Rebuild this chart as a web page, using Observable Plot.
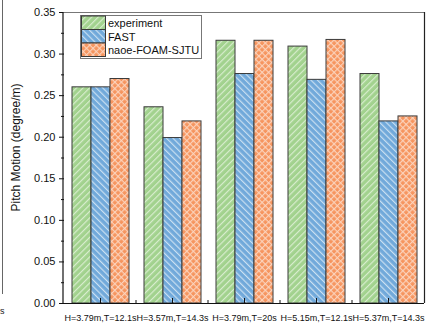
<!DOCTYPE html>
<html>
<head>
<meta charset="utf-8">
<script src="https://cdn.jsdelivr.net/npm/d3@7"></script>
<script src="https://cdn.jsdelivr.net/npm/@observablehq/plot@0.6"></script>
<style>
  body { margin: 0; background: #fff; }
  #chart { position: relative; width: 427px; height: 325px; overflow: hidden; font-family: "Liberation Sans", Arial, sans-serif; }
  #chart svg { position: absolute; left: 0; top: 0; }
  .edge-line { position: absolute; left: 2px; top: 0; width: 1px; height: 294px; background: #666; }
  .edge-text { position: absolute; left: 0px; top: 306px; font-size: 9px; color: #222; }
</style>
</head>
<body>
<div id="chart">
  <div class="edge-line"></div>
  <div class="edge-text">s</div>
</div>
<script>
// Wave conditions (one group of bars each)
const conditions = ["H=3.79m,T=12.1s", "H=3.57m,T=14.3s", "H=3.79m,T=20s", "H=5.15m,T=12.1s", "H=5.37m,T=14.3s"];
const seriesNames = ["experiment", "FAST", "naoe-FOAM-SJTU"];

// Pitch motion response per condition (degree/m)
const experiment = [0.260, 0.236, 0.316, 0.309, 0.276];
const fast       = [0.260, 0.199, 0.276, 0.269, 0.219];
const naoe       = [0.270, 0.219, 0.316, 0.317, 0.225];

const yTicks = [0, 0.05, 0.10, 0.15, 0.20, 0.25, 0.30, 0.35];
const yMinorTicks = [0.025, 0.075, 0.125, 0.175, 0.225, 0.275, 0.325];

const seriesValues = [experiment, fast, naoe];
const rows = [];
conditions.forEach((c, i) => {
  seriesNames.forEach((s, j) => rows.push({condition: c, series: s, value: seriesValues[j][i]}));
});

// hatch patterns for each series
const patterns = [
  {id: "hatch-exp",  base: "#a2d28e", line: "#dcefd3", angles: [45]},
  {id: "hatch-fast", base: "#71a9da", line: "#cfe3f3", angles: [-45]},
  {id: "hatch-naoe", base: "#f6955f", line: "#fcd6c0", angles: [45, -45]}
];

const plot = Plot.plot({
  width: 427,
  height: 325,
  marginLeft: 63,
  marginRight: 2,
  marginTop: 12,
  marginBottom: 22,
  style: {fontFamily: "'Liberation Sans', Arial, sans-serif", fontSize: "11px", background: "transparent", color: "#111"},
  fx: {domain: conditions, padding: 0, label: null},
  x: {domain: seriesNames, paddingInner: 0, paddingOuter: 0.38, axis: null},
  y: {domain: [0, 0.35], label: null},
  color: {domain: seriesNames, range: patterns.map(p => `url(#${p.id})`)},
  marks: [
    Plot.barY(rows, {fx: "condition", x: "series", y: "value", fill: "series", stroke: "#3a3a3a", strokeWidth: 1}),
    Plot.ruleY([0], {stroke: "#111", strokeWidth: 1.2}),
    Plot.axisY({ticks: yTicks, tickFormat: d3.format(".2f"), tickSize: 5, tickPadding: 4, label: null, fontSize: 11}),
    Plot.axisY({ticks: yMinorTicks, tickSize: 3, tickFormat: () => "", label: null}),
    Plot.axisFx({anchor: "bottom", tickSize: 0, tickPadding: 11, fontSize: 9, label: null}),
    Plot.axisFx({anchor: "bottom", tickSize: -5, tickFormat: () => "", label: null})
  ]
});

const svg = plot.tagName.toLowerCase() === "svg" ? plot : plot.querySelector("svg");
document.getElementById("chart").appendChild(plot);

const root = d3.select(svg);
const defs = root.insert("defs", ":first-child");
patterns.forEach(p => {
  const pat = defs.append("pattern")
    .attr("id", p.id)
    .attr("patternUnits", "userSpaceOnUse")
    .attr("width", 4.6).attr("height", 4.6)
    .attr("patternTransform", p.angles.length === 1 ? `rotate(${p.angles[0]})` : "rotate(45)");
  pat.append("rect").attr("width", 4.6).attr("height", 4.6).attr("fill", p.base);
  pat.append("line").attr("x1", 0.6).attr("y1", 0).attr("x2", 0.6).attr("y2", 4.6)
    .attr("stroke", p.line).attr("stroke-width", 1.1);
  if (p.angles.length > 1) {
    pat.append("line").attr("x1", 0).attr("y1", 0.6).attr("x2", 4.6).attr("y2", 0.6)
      .attr("stroke", p.line).attr("stroke-width", 1.1);
  }
});

// frame, left axis line and minor ticks between groups
const fx = plot.scale("fx");
const y = plot.scale("y");
const x0 = fx.range[0], x1 = fx.range[1];
const yTop = y.apply(0.35), yBot = y.apply(0);
const frame = root.append("g").attr("fill", "none");
frame.append("line").attr("x1", x0).attr("x2", x1).attr("y1", yTop + 0.5).attr("y2", yTop + 0.5).attr("stroke", "#777");
frame.append("line").attr("x1", x1 - 0.5).attr("x2", x1 - 0.5).attr("y1", yTop).attr("y2", yBot).attr("stroke", "#222").attr("stroke-width", 1.2);
frame.append("line").attr("x1", x0).attr("x2", x0).attr("y1", yTop).attr("y2", yBot).attr("stroke", "#111").attr("stroke-width", 1.2);
conditions.forEach((c, i) => {
  if (i === 0) return;
  const bx = fx.apply(c);
  frame.append("line").attr("x1", bx).attr("x2", bx).attr("y1", yBot).attr("y2", yBot - 3).attr("stroke", "#111");
});

// y-axis title
root.append("text")
  .attr("transform", `translate(${x0 - 43},${(yTop + yBot) / 2 - 10}) rotate(-90)`)
  .attr("text-anchor", "middle")
  .attr("font-size", 12)
  .attr("fill", "#111")
  .text("Pitch Motion (degree/m)");

// legend inside the plot area
const legend = root.append("g")
  .attr("transform", `translate(${x0 + 17},${yTop + 3})`)
  .attr("text-anchor", "start");
legend.append("rect").attr("x", 0.5).attr("y", 0.5).attr("width", 121).attr("height", 43)
  .attr("fill", "#fff").attr("stroke", "#777");
seriesNames.forEach((s, i) => {
  legend.append("rect")
    .attr("x", 1.5).attr("y", 1 + i * 13.5)
    .attr("width", 24).attr("height", 13.5)
    .attr("fill", `url(#${patterns[i].id})`)
    .attr("stroke", "#3a3a3a");
  legend.append("text")
    .attr("x", 28).attr("y", 1 + i * 13.5 + 11)
    .attr("text-anchor", "start")
    .attr("font-size", 11).attr("fill", "#111")
    .text(s);
});
</script>
</body>
</html>
